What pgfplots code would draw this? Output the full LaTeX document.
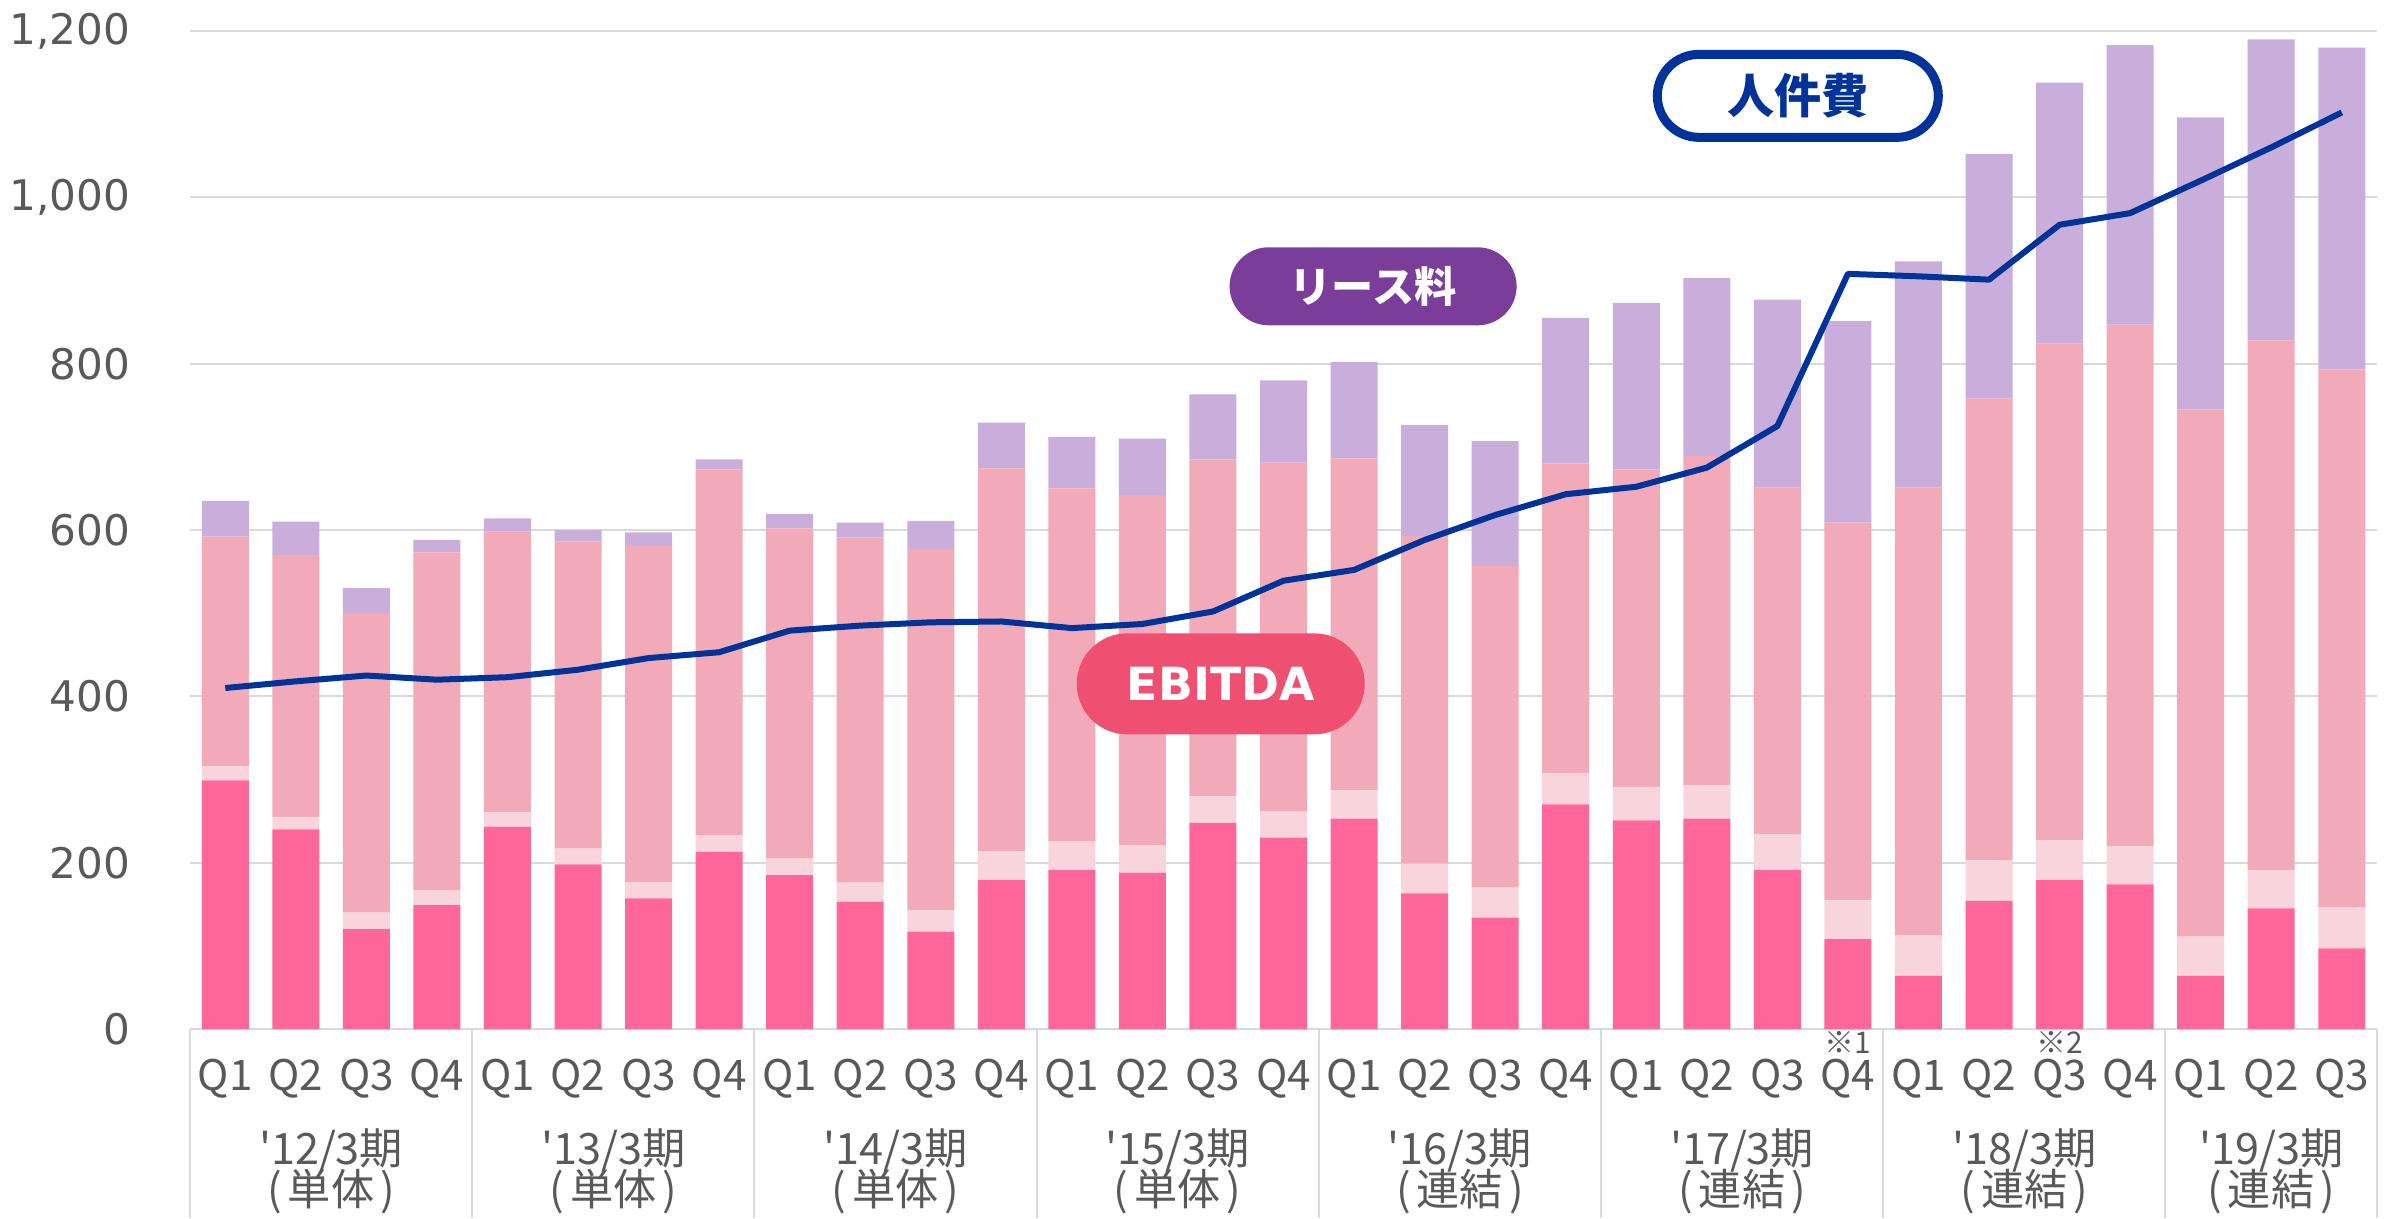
\documentclass[border=0pt]{standalone}
\usepackage{fontspec}
\usepackage{pgfplots}
\usepackage{pgfplotstable}
\pgfplotsset{compat=1.18}
\usetikzlibrary{shapes.misc}
\setmainfont{DejaVu Sans}
\newfontfamily\jp{Noto Sans CJK JP}
\definecolor{cDark}{HTML}{FF6699}
\definecolor{cLight}{HTML}{F8D5DC}
\definecolor{cMid}{HTML}{F2A9B8}
\definecolor{cPurp}{HTML}{C9ADDB}
\definecolor{cLine}{HTML}{003399}
\definecolor{cGrid}{HTML}{D9D9D9}
\definecolor{cText}{HTML}{595959}
\definecolor{cEbitda}{HTML}{EF5072}
\definecolor{cLease}{HTML}{7A3E9A}
\pgfplotstableread{
x dark light mid purple labor
1 299 17 276 43 410
2 240 15 315 40 418
3 120 20 360 30 425
4 149 18 406 15 420
5 243 18 337 16 423
6 198 19 369 14 432
7 157 20 404 16 446
8 213 20 440 12 453
9 185 20 397 17 479
10 153 23 415 18 485
11 117 26 434 34 489
12 179 35 460 55 490
13 191 35 424 62 482
14 188 33 421 68 487
15 248 32 405 78 502
16 230 32 419 99 539
17 253 34 399 116 552
18 163 36 394 133 588
19 134 36 387 150 618
20 270 38 372 175 643
21 251 40 382 200 652
22 253 40 396 214 675
23 191 43 417 226 725
24 108 47 454 242 908
25 64 49 538 272 905
26 154 49 555 294 901
27 179 48 597 314 967
28 174 46 627 336 981
29 64 47 634 351 1020
30 145 46 637 362 1060
31 97 49 647 387 1102
}\data
\newcommand{\yearlabel}[3]{%
  \node[font=\jp\fontsize{12.3}{12.3}\selectfont, text=cText, inner sep=0pt] at ([yshift=-12.1mm]axis cs:#1,0) {'#2/3期};
  \node[font=\jp\fontsize{12.3}{12.3}\selectfont, text=cText, inner sep=0pt] at ([yshift=-16.3mm]axis cs:#1,0) {(\hspace{0.6mm}#3\hspace{0.6mm})};
}
\begin{document}
\begin{tikzpicture}
\pgfplotsset{
  base/.style={scale only axis, width=218.7mm, height=99.8mm,
    xmin=0.5, xmax=31.5, ymin=0, ymax=1200, clip=false}
}
\begin{axis}[base, ybar stacked, bar width=4.7mm,
  axis line style={draw=none}, tick style={draw=none}, major tick length=0pt,
  ymajorgrids, grid style={cGrid, line width=0.2mm},
  ytick={0,200,...,1200},
  /pgf/number format/1000 sep={,},
  /pgf/number format/assume math mode=true,
  yticklabel style={font=\fontsize{12}{12}\selectfont, text=cText, inner sep=0pt, anchor=east, xshift=-5.9mm},
  xtick={1,...,31},
  xticklabels={Q1,Q2,Q3,Q4,Q1,Q2,Q3,Q4,Q1,Q2,Q3,Q4,Q1,Q2,Q3,Q4,Q1,Q2,Q3,Q4,Q1,Q2,Q3,Q4,Q1,Q2,Q3,Q4,Q1,Q2,Q3},
  xticklabel style={font=\jp\fontsize{12}{12}\selectfont, text=cText, inner sep=0pt, anchor=center, yshift=-5.0mm},
]
\coordinate (O) at (rel axis cs:0,0);
\addplot[fill=cDark, draw=none] table[x=x, y=dark] {\data};
\addplot[fill=cLight, draw=none] table[x=x, y=light] {\data};
\addplot[fill=cMid, draw=none] table[x=x, y=mid] {\data};
\addplot[fill=cPurp, draw=none] table[x=x, y=purple] {\data};
\pgfplotsinvokeforeach{0.5,4.5,8.5,12.5,16.5,20.5,24.5,28.5,31.5}{
  \draw[cGrid, line width=0.2mm] (axis cs:#1,0) -- ([yshift=-18.9mm]axis cs:#1,0);
}
\yearlabel{2.5}{12}{単体}
\yearlabel{6.5}{13}{単体}
\yearlabel{10.5}{14}{単体}
\yearlabel{14.5}{15}{単体}
\yearlabel{18.5}{16}{連結}
\yearlabel{22.5}{17}{連結}
\yearlabel{26.5}{18}{連結}
\yearlabel{30}{19}{連結}
\node[font=\jp\fontsize{8.5}{8.5}\selectfont, text=cText, inner sep=0pt] at ([yshift=-1.3mm]axis cs:24,0) {※1};
\node[font=\jp\fontsize{8.5}{8.5}\selectfont, text=cText, inner sep=0pt] at ([yshift=-1.3mm]axis cs:27,0) {※2};
\end{axis}
\begin{axis}[base, hide axis]
\addplot[cLine, line width=0.6mm, mark=none, line join=round] table[x=x, y=labor] {\data};
\node[rounded rectangle, fill=cEbitda, minimum width=28.8mm, minimum height=10.1mm, inner sep=0pt,
  text=white, font=\bfseries\fontsize{13}{13}\selectfont] at (axis cs:15.11,415) {EBITDA};
\node[rounded rectangle, fill=cLease, minimum width=28.7mm, minimum height=7.8mm, inner sep=0pt,
  text=white, font=\jp\bfseries\fontsize{12}{12}\selectfont] at (axis cs:17.27,893) {リース料};
\node[rounded rectangle, fill=white, draw=cLine, line width=0.9mm, minimum width=28.1mm, minimum height=8.3mm, inner sep=0pt,
  text=cLine, font=\jp\bfseries\fontsize{13.4}{13.4}\selectfont] at (axis cs:23.29,1122) {人件費};
\end{axis}
\pgfresetboundingbox
\path[use as bounding box] ([shift={(-19mm,-18.9mm)}]O) rectangle ++(239.7mm,121.8mm);
\end{tikzpicture}
\end{document}
